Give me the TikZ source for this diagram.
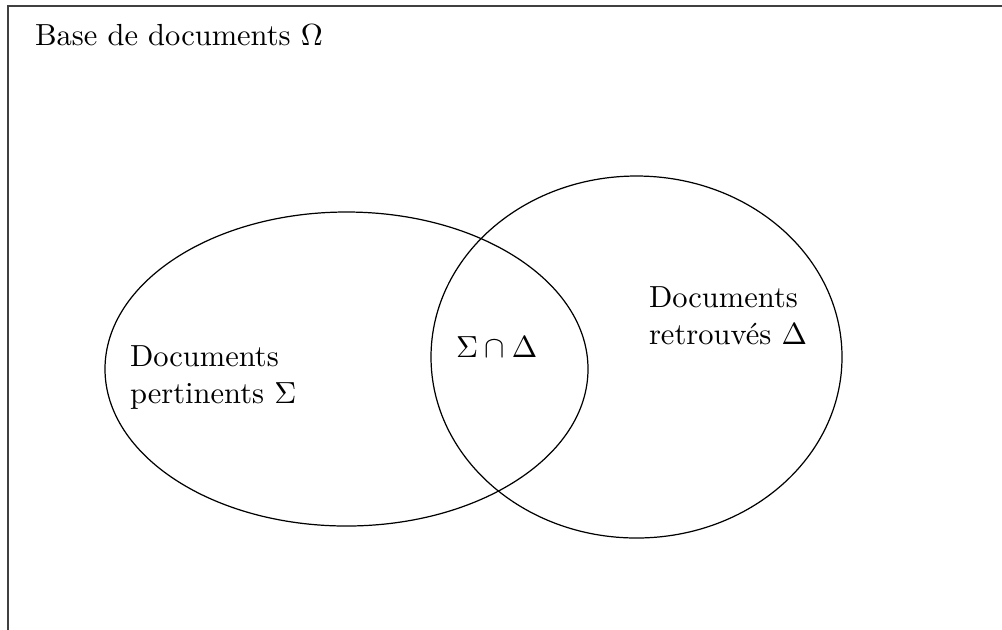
\documentclass[tikz,border=0pt]{standalone}
\begin{document}
\begin{tikzpicture}[x=0.32787pt,y=-0.32787pt,
  lbl/.style={inner sep=0pt,outer sep=0pt,anchor=base west,align=left},
  frame/.style={draw=black!75,line width=0.4pt},
  set/.style={draw=black,line width=0.4pt}]
\clip (0,0) rectangle (1002,629);
\draw[frame] (8,1200) -- (8,6) -- (1200,6);
\node[lbl] (omega) at (35,45) {Base de documents $\Omega$};
\draw[set] (346.5,369) ellipse [x radius=241.5, y radius=157];
\draw[set] (636.5,357) ellipse [x radius=205.5, y radius=181];
\node[lbl] (sigma) at (130,403) {Documents\\pertinents $\Sigma$};
\node[lbl] (inter) at (456,357) {$\Sigma\cap\Delta$};
\node[lbl] (delta) at (649,344) {Documents\\retrouvés $\Delta$};
\end{tikzpicture}
\end{document}
